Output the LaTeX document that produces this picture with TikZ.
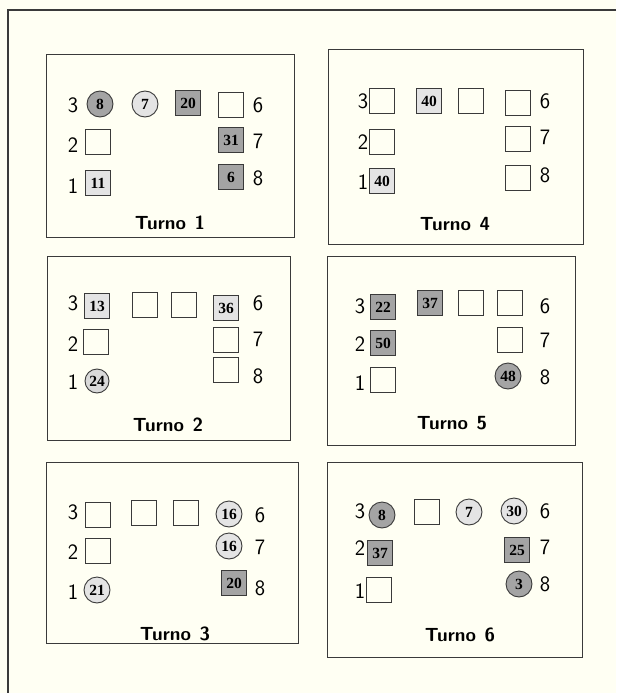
\documentclass[tikz,border=0pt]{standalone}
\usepackage{fontspec}
\newfontfamily\numfam{Liberation Serif}
\newcommand{\numfont}{\numfam\bfseries\fontsize{15.5}{15.5}\selectfont}
\newcommand{\lblfont}{\sffamily\fontsize{22}{22}\selectfont}
\newcommand{\ttlfont}{\sffamily\bfseries\fontsize{19}{19}\selectfont}
\definecolor{bgcream}{HTML}{FFFFF3}
\definecolor{darkgr}{HTML}{A4A4A4}
\definecolor{lightgr}{HTML}{E4E4E4}
\definecolor{framegr}{HTML}{3A3A3A}

\tikzset{
	box/.style={draw=framegr, line width=0.9pt, minimum size=25pt, inner sep=0pt, font=\numfont},
	sqdark/.style={box, rectangle, fill=darkgr},
	sqlight/.style={box, rectangle, fill=lightgr},
	sqempty/.style={box, rectangle},
	cdark/.style={box, circle, minimum size=26pt, fill=darkgr},
	clight/.style={box, circle, minimum size=26pt, fill=lightgr},
	lbl/.style={font=\lblfont, inner sep=0pt},
	ttl/.style={font=\ttlfont, inner sep=0pt},
	panel/.style={draw=framegr, line width=0.9pt}
}
\newcommand{\turno}[1]{Turno\hspace{0.45em}#1}

\begin{document}
\begin{tikzpicture}[x=1pt,y=-1pt]

	% Background and outer frame
	\fill[bgcream] (0,0) rectangle (616,693);
	\useasboundingbox (0,0) rectangle (616,693);
	\draw[framegr, line width=1.4pt] (616,10) -- (8,10) -- (8,693);

	% Turno 1
	\draw[panel] (46,54) rectangle (294,237);
	\node[lbl] (t1l3) at (73,105) {3};
	\node[cdark] (t1a) at (100,104) {8};
	\node[clight] (t1b) at (145,104) {7};
	\node[sqdark] (t1c) at (188,103) {20};
	\node[sqempty] (t1d) at (231,105) {};
	\node[lbl] (t1l6) at (258,105) {6};
	\node[lbl] (t1l2) at (73,145) {2};
	\node[sqempty] (t1e) at (98,142) {};
	\node[sqdark] (t1f) at (231,140) {31};
	\node[lbl] (t1l7) at (258,141) {7};
	\node[lbl] (t1l1) at (73,186) {1};
	\node[sqlight] (t1g) at (98,183) {11};
	\node[sqdark] (t1h) at (231,177) {6};
	\node[lbl] (t1l8) at (258,178) {8};
	\node[ttl] (t1t) at (170,223) {\turno{1}};

	% Turno 4
	\draw[panel] (328,49) rectangle (583,244);
	\node[lbl] (t4l3) at (363,101) {3};
	\node[sqempty] (t4a) at (382,101) {};
	\node[sqlight] (t4b) at (429,101) {40};
	\node[sqempty] (t4c) at (471,101) {};
	\node[sqempty] (t4d) at (518,103) {};
	\node[lbl] (t4l6) at (545,101) {6};
	\node[lbl] (t4l2) at (363,142) {2};
	\node[sqempty] (t4e) at (382,142) {};
	\node[sqempty] (t4f) at (518,139) {};
	\node[lbl] (t4l7) at (545,137) {7};
	\node[lbl] (t4l1) at (363,182) {1};
	\node[sqlight] (t4g) at (382,181) {40};
	\node[sqempty] (t4h) at (518,178) {};
	\node[lbl] (t4l8) at (545,175) {8};
	\node[ttl] (t4t) at (455,224) {\turno{4}};

	% Turno 2
	\draw[panel] (47,256) rectangle (290,440);
	\node[lbl] (t2l3) at (73,303) {3};
	\node[sqlight] (t2a) at (97,306) {13};
	\node[sqempty] (t2b) at (145,305) {};
	\node[sqempty] (t2c) at (184,305) {};
	\node[sqlight] (t2d) at (226,308) {36};
	\node[lbl] (t2l6) at (258,303) {6};
	\node[lbl] (t2l2) at (73,344) {2};
	\node[sqempty] (t2e) at (96,342) {};
	\node[sqempty] (t2f) at (226,340) {};
	\node[lbl] (t2l7) at (258,339) {7};
	\node[lbl] (t2l1) at (73,382) {1};
	\node[clight, fill=lightgr!95!black, minimum size=24pt] (t2g) at (97,381) {24};
	\node[sqempty] (t2h) at (226,370) {};
	\node[lbl] (t2l8) at (258,376) {8};
	\node[ttl] (t2t) at (168,425) {\turno{2}};

	% Turno 5
	\draw[panel] (327,256) rectangle (575,445);
	\node[lbl] (t5l3) at (360,306) {3};
	\node[sqdark] (t5a) at (383,307) {22};
	\node[sqdark] (t5b) at (430,303) {37};
	\node[sqempty] (t5c) at (471,303) {};
	\node[sqempty] (t5d) at (510,303) {};
	\node[lbl] (t5l6) at (545,306) {6};
	\node[lbl] (t5l2) at (360,344) {2};
	\node[sqdark] (t5e) at (383,343) {50};
	\node[sqempty] (t5f) at (510,340) {};
	\node[lbl] (t5l7) at (545,340) {7};
	\node[lbl] (t5l1) at (360,383) {1};
	\node[sqempty] (t5g) at (383,380) {};
	\node[cdark] (t5h) at (508,376) {48};
	\node[lbl] (t5l8) at (545,377) {8};
	\node[ttl] (t5t) at (452,423) {\turno{5}};

	% Turno 3
	\draw[panel] (46,462) rectangle (298,643);
	\node[lbl] (t3l3) at (73,512) {3};
	\node[sqempty] (t3a) at (98,515) {};
	\node[sqempty] (t3b) at (144,513) {};
	\node[sqempty] (t3c) at (186,513) {};
	\node[clight] (t3d) at (229,514) {16};
	\node[lbl] (t3l6) at (260,515) {6};
	\node[lbl] (t3l2) at (73,552) {2};
	\node[sqempty] (t3e) at (98,551) {};
	\node[clight] (t3f) at (229,546) {16};
	\node[lbl] (t3l7) at (260,547) {7};
	\node[lbl] (t3l1) at (73,592) {1};
	\node[clight] (t3g) at (97,590) {21};
	\node[sqdark] (t3h) at (234,583) {20};
	\node[lbl] (t3l8) at (260,588) {8};
	\node[ttl] (t3t) at (175,634) {\turno{3}};

	% Turno 6
	\draw[panel] (327,462) rectangle (582,657);
	\node[lbl] (t6l3) at (360,511) {3};
	\node[cdark] (t6a) at (382,515) {8};
	\node[sqempty] (t6b) at (427,512) {};
	\node[clight] (t6c) at (469,512) {7};
	\node[clight] (t6d) at (514,511) {30};
	\node[lbl] (t6l6) at (545,511) {6};
	\node[lbl] (t6l2) at (360,548) {2};
	\node[sqdark] (t6e) at (380,553) {37};
	\node[sqdark] (t6f) at (517,550) {25};
	\node[lbl] (t6l7) at (545,547) {7};
	\node[lbl] (t6l1) at (360,591) {1};
	\node[sqempty] (t6g) at (379,590) {};
	\node[cdark] (t6h) at (519,584) {3};
	\node[lbl] (t6l8) at (545,584) {8};
	\node[ttl] (t6t) at (460,635) {\turno{6}};

\end{tikzpicture}
\end{document}
